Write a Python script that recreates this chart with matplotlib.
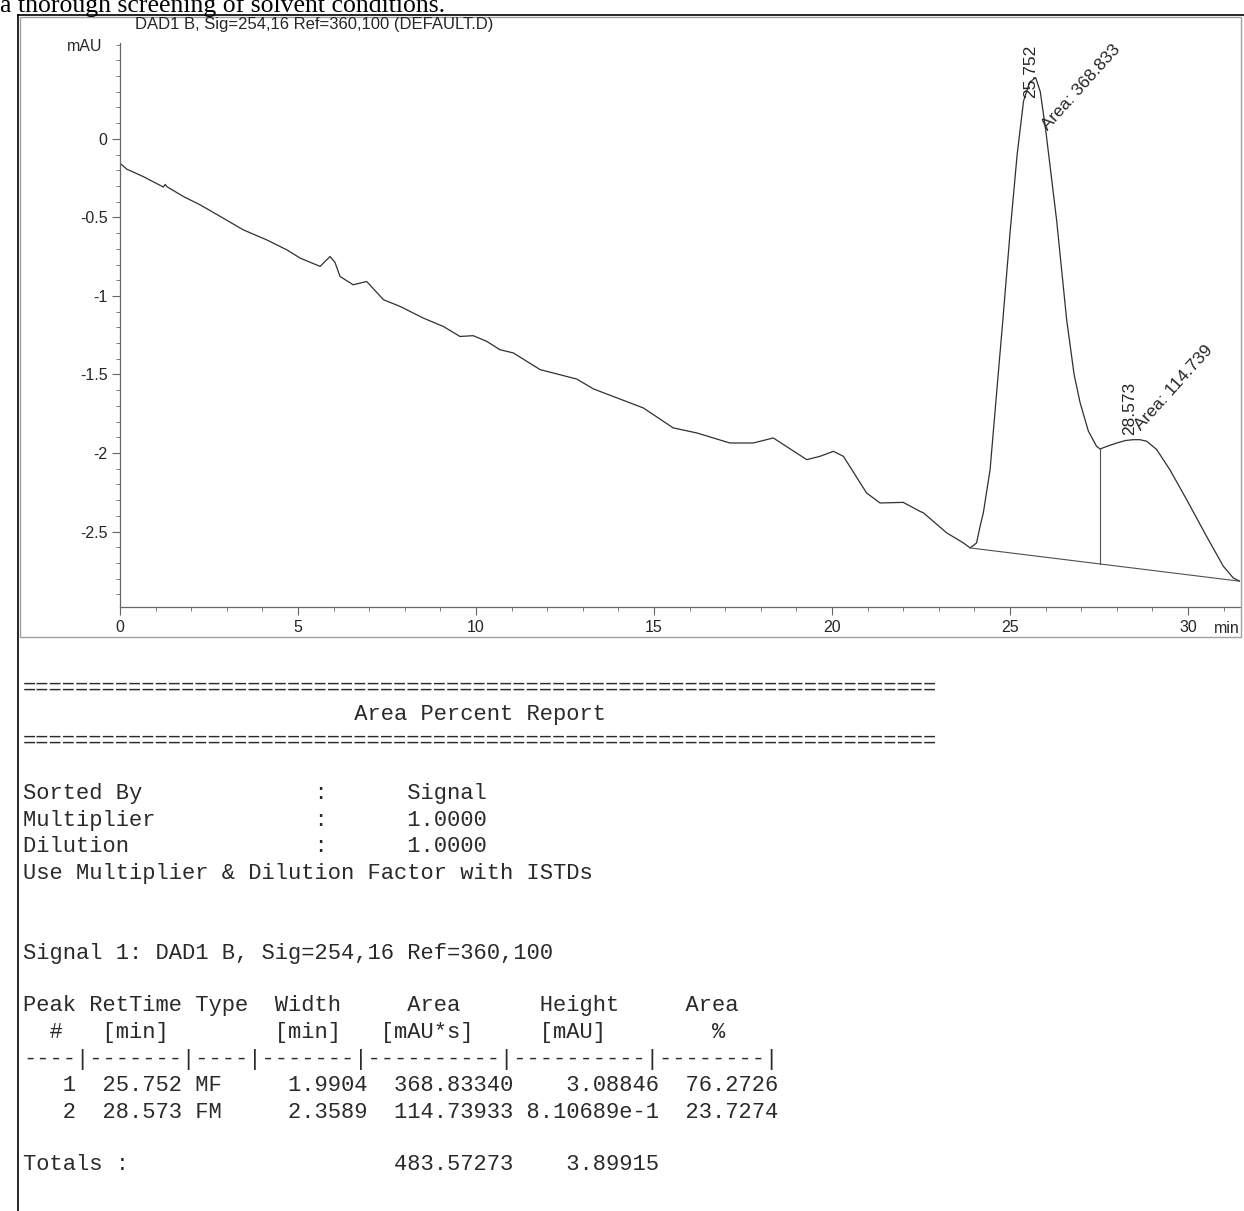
import numpy as np
import matplotlib
matplotlib.use('Agg')
import matplotlib.pyplot as plt
import matplotlib.transforms as mtransforms
from matplotlib.lines import Line2D
from matplotlib.ticker import MultipleLocator, FixedLocator

time_min = [0.00, 0.19, 0.65, 1.22, 1.27, 1.32, 1.78, 2.25, 2.90, 3.46, 4.12, 4.68,
            5.06, 5.62, 5.90, 6.04, 6.18, 6.55, 6.93, 7.40, 7.87, 8.52, 9.08, 9.55,
            9.92, 10.30, 10.67, 11.05, 11.80, 12.83, 13.30, 14.70, 15.54, 16.20, 17.13,
            17.79, 18.35, 19.29, 19.66, 20.04, 20.32, 20.97, 21.35, 22.00, 22.47, 22.57,
            23.22, 23.69, 23.88, 24.06, 24.16, 24.25, 24.44, 24.63, 24.80, 25.00, 25.20,
            25.38, 25.55, 25.72, 25.85, 26.00, 26.15, 26.31, 26.59, 26.80, 26.97, 27.20,
            27.43, 27.53, 27.75, 28.00, 28.25, 28.46, 28.65, 28.84, 29.12, 29.49, 29.96,
            30.52, 30.99, 31.27, 31.46]
signal_mau = [-0.155, -0.193, -0.240, -0.307, -0.290, -0.305, -0.367, -0.420, -0.505, -0.579,
              -0.643, -0.706, -0.759, -0.812, -0.749, -0.787, -0.876, -0.929, -0.908, -1.024,
              -1.067, -1.141, -1.194, -1.258, -1.253, -1.289, -1.342, -1.363, -1.469, -1.529,
              -1.592, -1.713, -1.840, -1.872, -1.936, -1.936, -1.904, -2.042, -2.021, -1.989,
              -2.021, -2.254, -2.318, -2.314, -2.371, -2.381, -2.508, -2.572, -2.604, -2.572,
              -2.466, -2.381, -2.106, -1.600, -1.150, -0.600, -0.100, 0.240, 0.360, 0.390,
              0.300, 0.060, -0.220, -0.520, -1.150, -1.500, -1.681, -1.860, -1.957, -1.974,
              -1.955, -1.936, -1.920, -1.915, -1.915, -1.925, -1.978, -2.106, -2.296, -2.530,
              -2.720, -2.795, -2.816]

# integration baseline and peak split
baseline_t = [23.88, 31.46]
baseline_v = [-2.604, -2.816]
split_t = 27.53

peak_rt = ['25.752', '28.573']
peak_area = ['368.833', '114.739']

y_labelled = [0, -0.5, -1, -1.5, -2, -2.5]

report_lines = [
    '=' * 69,
    ' ' * 25 + 'Area Percent Report',
    '=' * 69,
    '',
    'Sorted By             :      Signal',
    'Multiplier            :      1.0000',
    'Dilution              :      1.0000',
    'Use Multiplier & Dilution Factor with ISTDs',
    '',
    '',
    'Signal 1: DAD1 B, Sig=254,16 Ref=360,100',
    '',
    'Peak RetTime Type  Width     Area      Height     Area',
    '  #   [min]        [min]   [mAU*s]     [mAU]        %',
    '----|-------|----|-------|----------|----------|--------|',
    '   1  25.752 MF     1.9904  368.83340    3.08846  76.2726',
    '   2  28.573 FM     2.3589  114.73933 8.10689e-1  23.7274',
    '',
    'Totals :                    483.57273    3.89915',
]

W, H = 1244, 1211
axis_font, axis_size = 'Liberation Sans', 11.5
ink = '#262626'

fig = plt.figure(figsize=(W / 100, H / 100), dpi=100)

def fy(y):
    return 1 - y / H

# page border and plot frame
fig.add_artist(Line2D([18 / W, 18 / W], [0, fy(15)], color='black', lw=1.2))
fig.add_artist(Line2D([18 / W, 1], [fy(15)] * 2, color='black', lw=1.2))
fig.add_artist(plt.Rectangle((20 / W, fy(637)), 1221 / W, 620 / H, fill=False,
                             ec='#a0a0a0', lw=1.0))

fig.text(0, fy(12), 'a thorough screening of solvent conditions.',
         family='Liberation Serif', fontsize=18.5, va='baseline', ha='left')

ax = fig.add_axes([120 / W, fy(607), 1120 / W, 564 / H])
ax.plot(time_min, signal_mau, color='#303030', lw=0.9)
ax.plot(baseline_t, baseline_v, color='#505050', lw=0.8)
top = np.interp(split_t, time_min, signal_mau)
bot = np.interp(split_t, baseline_t, baseline_v)
ax.plot([split_t, split_t], [bot, top], color='#505050', lw=0.8)

ax.set_xlim(0, 31.46)
ax.set_ylim(-2.98, 0.61)
for s in ['top', 'right']:
    ax.spines[s].set_visible(False)
for s in ['left', 'bottom']:
    ax.spines[s].set_color('#666666')
    ax.spines[s].set_linewidth(0.9)
ax.xaxis.set_major_locator(MultipleLocator(5))
ax.xaxis.set_minor_locator(MultipleLocator(1))
ax.yaxis.set_major_locator(FixedLocator(y_labelled))
ax.yaxis.set_minor_locator(MultipleLocator(0.1))
ax.tick_params(which='major', length=6, width=0.8, color='#666666', pad=3,
               labelsize=axis_size, labelcolor=ink)
ax.tick_params(which='minor', length=3, width=0.7, color='#777777')
ax.yaxis.set_major_formatter(lambda v, p: '0' if abs(v) < 1e-9 else f'{v:g}')
for lab in ax.get_xticklabels() + ax.get_yticklabels():
    lab.set_family(axis_font)

trans = mtransforms.blended_transform_factory(ax.transAxes, ax.transData)
ax.text(-0.016, 0.585, 'mAU', transform=trans, ha='right', va='center',
        family=axis_font, fontsize=axis_size, color=ink)
trans_x = mtransforms.blended_transform_factory(ax.transData, ax.transAxes)
ax.text(31.1, -0.038, 'min', transform=trans_x, ha='center', va='center',
        family=axis_font, fontsize=axis_size, color=ink)
fig.text(135 / W, fy(25), 'DAD1 B, Sig=254,16 Ref=360,100 (DEFAULT.D)',
         family=axis_font, fontsize=12, color=ink, ha='left', va='center')

# peak labels
rt_pos = [(25.58, 0.26), (28.37, -1.885)]
area_pos = [(26.12, 0.04), (28.74, -1.87)]
for rt, area, (rx, ry), (axx, ayy) in zip(peak_rt, peak_area, rt_pos, area_pos):
    ax.text(rx, ry, rt, rotation=90, ha='center', va='bottom',
            family='Liberation Sans', fontsize=12.5, color=ink)
    ax.text(axx, ayy, 'Area: ' + area, rotation=48, rotation_mode='anchor',
            ha='left', va='bottom', family='Liberation Sans', fontsize=12.5,
            color=ink)

# area percent report
for i, line in enumerate(report_lines):
    if line:
        fig.text(23 / W, fy(688 + i * 26.5), line, family='Liberation Mono',
                 fontsize=15.9, color='#2a2a2a', ha='left', va='center')

fig.savefig('out.png', dpi=100)
